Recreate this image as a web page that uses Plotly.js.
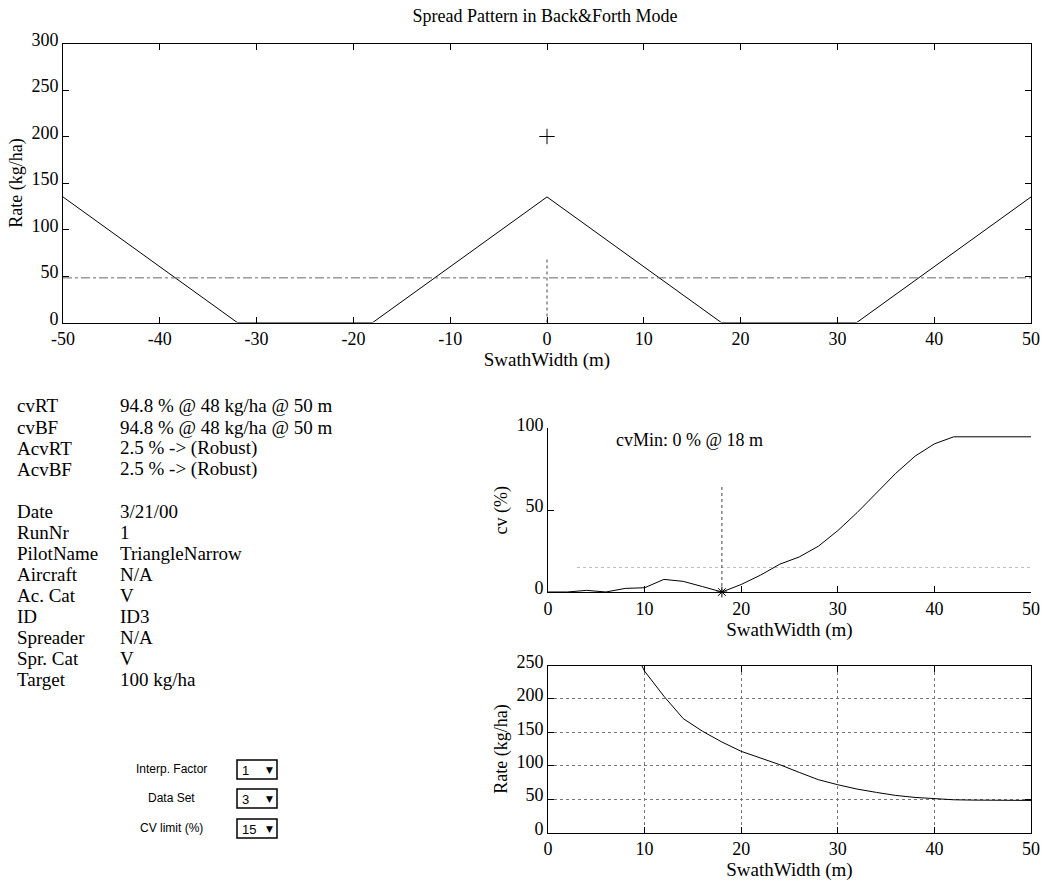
<!DOCTYPE html>
<html>
<head>
<meta charset="utf-8">
<script src="https://cdn.plot.ly/plotly-3.0.1.min.js"></script>
<style>html,body{margin:0;padding:0;background:#fff}#chart{width:1047px;height:882px}</style>
</head>
<body>
<div id="chart"></div>
<script>
// ---------- data ----------
const patternX = [-50, -32, -18, 0, 18, 32, 50];
const patternY = [135, 0, 0, 135, 0, 0, 135];
const targetX = [0];
const targetY = [200];
const meanRateX = [-50, 50];
const meanRateY = [48, 48];
const centerMarkX = [0, 0];
const centerMarkY = [0, 68];

const cvX = [0, 2, 4, 6, 8, 10, 12, 14, 16, 18, 20, 22, 24, 26, 28, 30, 32, 34, 36, 38, 40, 42, 44, 46, 48, 50];
const cvY = [0, 0, 1, 0, 2.2, 2.6, 7.7, 6.5, 3.3, 0, 4.6, 10.3, 17, 21.4, 28, 37.5, 48.5, 60.5, 72.5, 83, 90.5, 94.8, 94.8, 94.8, 94.8, 94.8];
const cvMinX = [18];
const cvMinY = [0];
const cvMinLineX = [18, 18];
const cvMinLineY = [0, 65];
const cvLimitX = [3, 50];
const cvLimitY = [15, 15];

const rateX = [9.7, 10, 12, 14, 16, 18, 20, 22, 24, 26, 28, 30, 32, 34, 36, 38, 40, 42, 44, 46, 48, 50];
const rateY = [250, 241.5, 204, 170.5, 151.5, 135.5, 121.5, 111.5, 101.5, 90, 79, 71.5, 65, 60, 55.5, 52.5, 50.5, 49, 48.5, 48.5, 48, 48];

const topTicks = [-50, -40, -30, -20, -10, 0, 10, 20, 30, 40, 50];
const subTicks = [0, 10, 20, 30, 40, 50];

const infoLabels = ["cvRT", "cvBF", "AcvRT", "AcvBF", "", "Date", "RunNr", "PilotName", "Aircraft", "Ac. Cat", "ID", "Spreader", "Spr. Cat", "Target"];
const infoValues = ["94.8 % @ 48 kg/ha @ 50 m", "94.8 % @ 48 kg/ha @ 50 m", "2.5 % -> (Robust)", "2.5 % -> (Robust)", "", "3/21/00", "1", "TriangleNarrow", "N/A", "V", "ID3", "N/A", "V", "100 kg/ha"];

const controlLabels = ["Interp. Factor", "Data Set", "CV limit (%)"];
const controlValues = ["1", "3", "15"];

// ---------- layout helpers ----------
const W = 1047, H = 882;
const px = x => x / W;
const py = y => 1 - y / H;
const SERIF = "Liberation Serif";
const SANS = "Liberation Sans";

const line = {color: "black", width: 1};

const traces = [
  {x: patternX, y: patternY, xaxis: "x", yaxis: "y", mode: "lines", line: line},
  {x: targetX, y: targetY, xaxis: "x", yaxis: "y", mode: "markers",
   marker: {symbol: "cross-thin-open", size: 11, color: "black", line: {color: "black", width: 1}}},
  {x: meanRateX, y: meanRateY, xaxis: "x", yaxis: "y", mode: "lines",
   line: {color: "#666", width: 1, dash: "dashdot"}},
  {x: centerMarkX, y: centerMarkY, xaxis: "x", yaxis: "y", mode: "lines",
   line: {color: "#444", width: 1, dash: "dot"}},

  {x: cvLimitX, y: cvLimitY, xaxis: "x2", yaxis: "y2", mode: "lines",
   line: {color: "#bbb", width: 1, dash: "dot"}},
  {x: cvMinLineX, y: cvMinLineY, xaxis: "x2", yaxis: "y2", mode: "lines",
   line: {color: "#444", width: 1, dash: "dot"}},
  {x: cvX, y: cvY, xaxis: "x2", yaxis: "y2", mode: "lines", line: line},
  {x: cvMinX, y: cvMinY, xaxis: "x2", yaxis: "y2", mode: "markers", cliponaxis: false,
   marker: {symbol: "asterisk-open", size: 9, color: "black", line: {color: "black", width: 1}}},

  {x: rateX, y: rateY, xaxis: "x3", yaxis: "y3", mode: "lines", line: line}
];

function xAx(domain, anchor, ticks, mirror, grid) {
  return {
    domain: domain, anchor: anchor, range: [ticks[0], ticks[ticks.length - 1]],
    tickmode: "array", tickvals: ticks, ticktext: ticks.map(String),
    ticks: "inside", ticklen: 6, tickcolor: "black",
    showline: true, linecolor: "black", linewidth: 1, mirror: mirror,
    showgrid: grid, gridcolor: "#777", griddash: "dot", gridwidth: 1,
    zeroline: false, tickfont: {family: SERIF, size: 18, color: "black"},
    title: {text: "SwathWidth (m)", font: {family: SERIF, size: 19, color: "black"}, standoff: 0}
  };
}
function yAx(domain, anchor, range, ticks, mirror, grid, title) {
  return {
    domain: domain, anchor: anchor, range: range,
    tickmode: "array", tickvals: ticks, ticktext: ticks.map(String),
    ticks: "inside", ticklen: 6, tickcolor: "black", ticklabelshift: -4,
    showline: true, linecolor: "black", linewidth: 1, mirror: mirror,
    showgrid: grid, gridcolor: "#777", griddash: "dot", gridwidth: 1,
    zeroline: false, tickfont: {family: SERIF, size: 18, color: "black"},
    title: {text: title, font: {family: SERIF, size: 18, color: "black"}, standoff: 4}
  };
}

const annotations = [];
const rowYs = [406, 427, 448, 469, 490, 511, 532, 553, 574, 595, 616, 637, 658, 679];
infoLabels.forEach((lab, i) => {
  if (lab) {
    annotations.push({text: lab, x: px(15), y: py(rowYs[i]), xref: "paper", yref: "paper",
      xanchor: "left", yanchor: "middle", showarrow: false, font: {family: SERIF, size: 19, color: "black"}});
    annotations.push({text: infoValues[i], x: px(118), y: py(rowYs[i]), xref: "paper", yref: "paper",
      xanchor: "left", yanchor: "middle", showarrow: false, font: {family: SERIF, size: 19, color: "black"}});
  }
});
annotations.push({text: "cvMin: 0 % @ 18 m", x: 6.8, y: 93, xref: "x2", yref: "y2",
  xanchor: "left", yanchor: "middle", showarrow: false, font: {family: SERIF, size: 18, color: "black"}});

const shapes = [];
const ctrlY = [769, 798, 828];
controlLabels.forEach((lab, i) => {
  const cy = ctrlY[i];
  annotations.push({text: lab, x: px(172), y: py(cy), xref: "paper", yref: "paper",
    xanchor: "center", yanchor: "middle", showarrow: false, font: {family: SANS, size: 12, color: "black"}});
  annotations.push({text: controlValues[i], x: px(240), y: py(cy + 1), xref: "paper", yref: "paper",
    xanchor: "left", yanchor: "middle", showarrow: false, font: {family: SANS, size: 13, color: "black"}});
  annotations.push({text: "▼", x: px(269), y: py(cy + 1), xref: "paper", yref: "paper",
    xanchor: "center", yanchor: "middle", showarrow: false, font: {family: "DejaVu Sans", size: 9, color: "black"}});
  shapes.push({type: "rect", xref: "paper", yref: "paper",
    x0: px(237), x1: px(277), y0: py(cy + 10), y1: py(cy - 9),
    line: {color: "black", width: 1.5}, fillcolor: "rgba(0,0,0,0)"});
});

const layout = {
  width: W, height: H,
  margin: {l: 0, r: 0, t: 0, b: 0},
  paper_bgcolor: "white", plot_bgcolor: "white",
  font: {family: SERIF, size: 18, color: "black"},
  showlegend: false,
  title: {text: "Spread Pattern in Back&Forth Mode", font: {family: SERIF, size: 18, color: "black"},
          x: px(545), xanchor: "center", y: py(16), yanchor: "middle"},
  xaxis: xAx([px(63), px(1031)], "y", topTicks, "ticks", false),
  yaxis: yAx([py(322.5), py(43.5)], "x", [0, 300], [0, 50, 100, 150, 200, 250, 300], "ticks", false, "Rate (kg/ha)"),
  xaxis2: xAx([px(548), px(1031)], "y2", subTicks, false, false),
  yaxis2: yAx([py(592), py(428.3)], "x2", [0, 100], [0, 50, 100], false, false, "cv (%)"),
  xaxis3: xAx([px(548), px(1031)], "y3", subTicks, "ticks", true),
  yaxis3: yAx([py(832.5), py(665.5)], "x3", [0, 250], [0, 50, 100, 150, 200, 250], "ticks", true, "Rate (kg/ha)"),
  annotations: annotations,
  shapes: shapes
};

Plotly.newPlot("chart", traces, layout, {displayModeBar: false, staticPlot: true});
</script>
</body>
</html>
